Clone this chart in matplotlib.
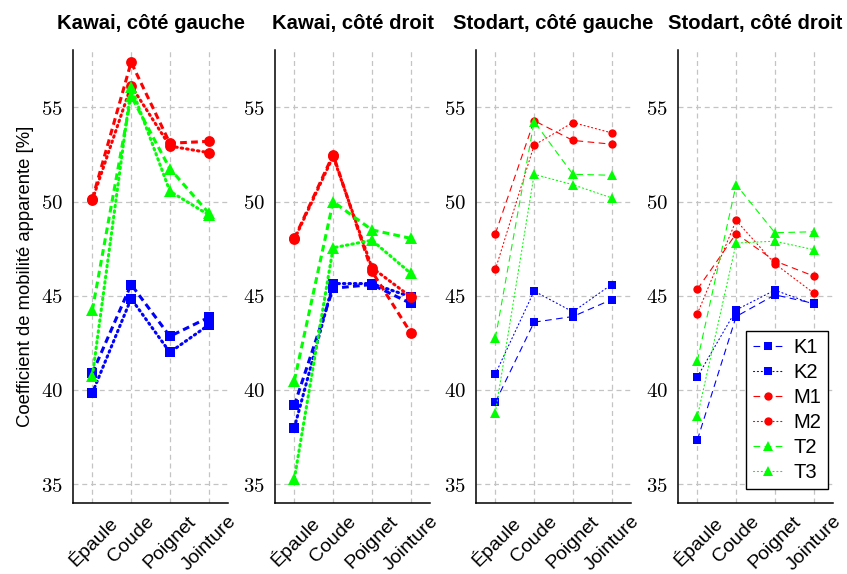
import matplotlib
matplotlib.use("Agg")
import matplotlib.pyplot as plt
from matplotlib.ticker import FuncFormatter, FixedLocator

plt.rcParams['font.family'] = ['Liberation Sans', 'DejaVu Sans']
plt.rcParams['mathtext.fontset'] = 'cm'

joints = ["Épaule", "Coude", "Poignet", "Jointure"]
titles = ["Kawai, côté gauche", "Kawai, côté droit", "Stodart, côté gauche", "Stodart, côté droit"]
series_names = ["K1", "K2", "M1", "M2", "T2", "T3"]

# values per panel (Épaule, Coude, Poignet, Jointure)
kawai_g_K1 = [40.9, 45.6, 42.85, 43.85]
kawai_g_K2 = [39.85, 44.85, 42.0, 43.45]
kawai_g_M1 = [50.15, 57.4, 53.1, 53.2]
kawai_g_M2 = [50.1, 56.15, 52.95, 52.6]
kawai_g_T2 = [44.25, 55.6, 51.75, 49.4]
kawai_g_T3 = [40.75, 56.1, 50.55, 49.3]

kawai_d_K1 = [39.2, 45.4, 45.6, 44.6]
kawai_d_K2 = [38.0, 45.65, 45.65, 44.95]
kawai_d_M1 = [48.05, 52.5, 46.3, 43.05]
kawai_d_M2 = [48.0, 52.4, 46.5, 44.95]
kawai_d_T2 = [40.5, 50.0, 48.5, 48.05]
kawai_d_T3 = [35.3, 47.55, 47.95, 46.2]

stodart_g_K1 = [39.35, 43.6, 43.9, 44.8]
stodart_g_K2 = [40.85, 45.25, 44.15, 45.6]
stodart_g_M1 = [48.3, 54.3, 53.25, 53.05]
stodart_g_M2 = [46.4, 53.0, 54.2, 53.65]
stodart_g_T2 = [42.75, 54.25, 51.45, 51.4]
stodart_g_T3 = [38.8, 51.45, 50.9, 50.2]

stodart_d_K1 = [37.35, 43.9, 45.05, 44.6]
stodart_d_K2 = [40.7, 44.25, 45.3, 44.55]
stodart_d_M1 = [45.35, 48.3, 46.85, 46.05]
stodart_d_M2 = [44.05, 49.0, 46.7, 45.15]
stodart_d_T2 = [41.55, 50.9, 48.35, 48.4]
stodart_d_T3 = [38.6, 47.8, 47.9, 47.45]

panels = [
    [kawai_g_K1, kawai_g_K2, kawai_g_M1, kawai_g_M2, kawai_g_T2, kawai_g_T3],
    [kawai_d_K1, kawai_d_K2, kawai_d_M1, kawai_d_M2, kawai_d_T2, kawai_d_T3],
    [stodart_g_K1, stodart_g_K2, stodart_g_M1, stodart_g_M2, stodart_g_T2, stodart_g_T3],
    [stodart_d_K1, stodart_d_K2, stodart_d_M1, stodart_d_M2, stodart_d_T2, stodart_d_T3],
]
yticks = [35, 40, 45, 50, 55]

colors = ["#0000ff", "#0000ff", "#ff0000", "#ff0000", "#00ff00", "#00ff00"]
markers = ["s", "s", "o", "o", "^", "^"]
is_dashed = [True, False, True, False, True, False]

W, H = 847, 574
fig = plt.figure(figsize=(W / 100, H / 100), dpi=100)
lefts = [73, 275, 476, 678]
ax_w = 155
top, bot = 50, 503

x = list(range(len(joints)))
for p, (vals_list, title) in enumerate(zip(panels, titles)):
    ax = fig.add_axes([lefts[p] / W, 1 - bot / H, ax_w / W, (bot - top) / H])
    thick = p < 2
    for i, vals in enumerate(vals_list):
        if thick:
            lw = 2.2
            ms = 7.8 if markers[i] != "^" else 8.5
            ls = (0, (2.2, 1.4)) if is_dashed[i] else (0, (0.5, 1.3))
        else:
            lw = 0.8
            ms = 6 if markers[i] != "^" else 6.5
            ls = (0, (6, 4)) if is_dashed[i] else (0, (1, 2.5))
        ax.plot(x, vals, color=colors[i], marker=markers[i], markersize=ms,
                linewidth=lw, linestyle=ls, label=series_names[i],
                markeredgewidth=0, dash_capstyle='round' if not is_dashed[i] else 'butt',
                zorder=3)
    ax.set_xlim(-0.5, 3.5)
    ax.set_ylim(34.0, 58.05)
    ax.yaxis.set_major_locator(FixedLocator(yticks))
    ax.yaxis.set_major_formatter(FuncFormatter(lambda v, pos: r"$%d$" % v))
    ax.set_xticks(x)
    ax.set_xticklabels(joints, rotation=45, ha='center', fontsize=14)
    ax.tick_params(axis='y', length=0, pad=7, labelsize=15)
    ax.tick_params(axis='x', length=0, pad=7)
    ax.grid(True, color='#c4c4c4', linestyle=(0, (4, 3)), linewidth=0.9, zorder=0)
    ax.set_axisbelow(True)
    for s in ['top', 'right']:
        ax.spines[s].set_visible(False)
    for s in ['left', 'bottom']:
        ax.spines[s].set_linewidth(1.1)
    ax.set_title(title, fontsize=14.6, fontweight='bold', pad=15)
    if p == 0:
        ax.set_ylabel("Coefficient de mobilité apparente [%]", fontsize=13.3, labelpad=5)
    if p == 3:
        leg = ax.legend(loc='lower right', bbox_to_anchor=(0.97, 0.031),
                        borderaxespad=0.0,
                        fontsize=14.5, frameon=True, fancybox=False,
                        edgecolor='black', framealpha=1, handlelength=1.5,
                        labelspacing=0.3, borderpad=0.35, handletextpad=0.5)
        leg.get_frame().set_linewidth(1.0)

fig.savefig("out.png", dpi=100)
